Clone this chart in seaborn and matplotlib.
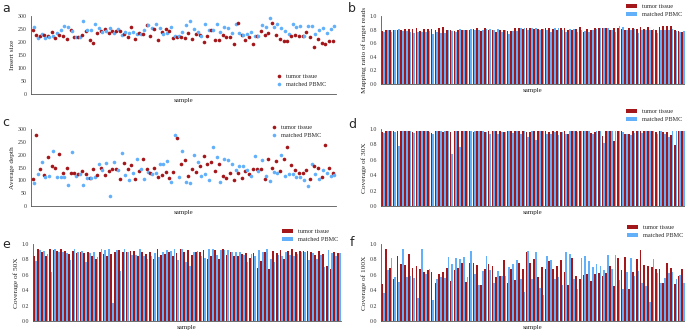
import pandas as pd
import matplotlib.pyplot as plt
import seaborn as sns

# Insert size (panel a)
insert_tumor = [245, 227, 223, 227, 222, 240, 217, 228, 224, 213, 246, 218, 218, 226, 242, 208,
                196, 236, 242, 250, 236, 242, 242, 241, 229, 218, 256, 213, 235, 232, 265, 224,
                250, 209, 238, 250, 244, 215, 220, 220, 215, 236, 213, 232, 228, 200, 222, 247,
                209, 209, 227, 219, 219, 192, 272, 228, 208, 219, 194, 222, 244, 227, 236, 272,
                226, 213, 203, 205, 224, 228, 224, 223, 237, 219, 181, 211, 197, 194, 203, 205]
insert_pbmc = [258, 217, 231, 215, 220, 225, 233, 246, 260, 257, 243, 221, 220, 280, 248, 248,
               268, 255, 238, 244, 253, 235, 250, 228, 240, 235, 238, 230, 230, 248, 265, 254,
               268, 252, 232, 235, 258, 222, 225, 238, 265, 282, 250, 240, 225, 270, 246, 247,
               270, 237, 256, 253, 233, 270, 235, 228, 232, 237, 225, 223, 265, 258, 293, 258,
               268, 252, 243, 232, 270, 258, 262, 222, 260, 263, 232, 245, 255, 236, 250, 262]

# Mapping ratio of target reads (panel b)
mapping_tumor = [0.78, 0.80, 0.80, 0.79, 0.80, 0.79, 0.81, 0.81, 0.81, 0.82, 0.78, 0.81, 0.81, 0.81,
                 0.79, 0.83, 0.84, 0.80, 0.80, 0.78, 0.79, 0.80, 0.79, 0.80, 0.81, 0.82, 0.78, 0.82,
                 0.80, 0.80, 0.77, 0.79, 0.79, 0.78, 0.78, 0.82, 0.82, 0.81, 0.82, 0.83, 0.81, 0.81,
                 0.81, 0.82, 0.82, 0.81, 0.80, 0.83, 0.82, 0.79, 0.80, 0.81, 0.84, 0.77, 0.81, 0.80,
                 0.82, 0.83, 0.82, 0.82, 0.80, 0.83, 0.82, 0.81, 0.80, 0.82, 0.82, 0.81, 0.84, 0.81,
                 0.84, 0.80, 0.80, 0.84, 0.86, 0.85, 0.86, 0.80, 0.78, 0.77]
mapping_pbmc = [0.76, 0.79, 0.77, 0.80, 0.81, 0.78, 0.78, 0.77, 0.75, 0.76, 0.77, 0.77, 0.78, 0.74,
                0.76, 0.75, 0.75, 0.80, 0.78, 0.76, 0.81, 0.79, 0.80, 0.81, 0.80, 0.80, 0.80, 0.81,
                0.81, 0.79, 0.81, 0.76, 0.80, 0.73, 0.78, 0.78, 0.82, 0.82, 0.80, 0.83, 0.83, 0.80,
                0.81, 0.80, 0.76, 0.82, 0.82, 0.80, 0.77, 0.81, 0.81, 0.76, 0.79, 0.78, 0.76, 0.80,
                0.81, 0.82, 0.83, 0.82, 0.79, 0.77, 0.85, 0.84, 0.80, 0.80, 0.81, 0.75, 0.80, 0.80,
                0.80, 0.81, 0.75, 0.79, 0.79, 0.79, 0.81, 0.78, 0.76, 0.78]

# Average depth (panel c)
depth_tumor = [107, 275, 143, 120, 190, 155, 147, 202, 130, 150, 128, 127, 125, 138, 125, 108,
               145, 122, 150, 120, 135, 143, 143, 107, 168, 143, 160, 107, 136, 183, 143, 127,
               150, 112, 120, 133, 110, 133, 263, 165, 178, 115, 145, 133, 157, 195, 162, 172,
               135, 165, 115, 108, 127, 102, 127, 110, 135, 125, 145, 145, 145, 105, 182, 147,
               175, 138, 183, 228, 158, 142, 130, 127, 140, 107, 157, 150, 113, 238, 148, 130]
depth_pbmc = [90, 125, 170, 113, 115, 213, 113, 113, 112, 83, 212, 118, 125, 82, 110, 110,
              113, 163, 140, 167, 40, 173, 140, 205, 120, 100, 127, 182, 143, 107, 132, 123,
              127, 163, 165, 175, 92, 278, 113, 215, 95, 88, 200, 173, 115, 123, 102, 230,
              190, 95, 183, 180, 165, 140, 155, 155, 140, 117, 195, 135, 178, 118, 98, 133,
              130, 200, 118, 125, 123, 112, 112, 102, 78, 165, 125, 107, 140, 130, 115, 120]

# Coverage of 30X (panel d)
cov30_tumor = [0.96, 0.98, 0.97, 0.97, 0.98, 0.98, 0.98, 0.98, 0.96, 0.98, 0.97, 0.97, 0.97, 0.95,
               0.97, 0.98, 0.96, 0.97, 0.96, 0.97, 0.98, 0.98, 0.98, 0.98, 0.96, 0.98, 0.97, 0.96,
               0.97, 0.98, 0.97, 0.97, 0.96, 0.97, 0.98, 0.97, 0.98, 0.98, 0.96, 0.96, 0.98, 0.98,
               0.97, 0.98, 0.96, 0.98, 0.97, 0.96, 0.98, 0.94, 0.97, 0.98, 0.98, 0.98, 0.97, 0.95,
               0.96, 0.97, 0.91, 0.97, 0.98, 0.85, 0.98, 0.98, 0.94, 0.93, 0.97, 0.98, 0.97, 0.97,
               0.97, 0.97, 0.96, 0.98, 0.96, 0.96, 0.92, 0.79, 0.97, 0.97]
cov30_pbmc = [0.95, 0.97, 0.97, 0.96, 0.78, 0.98, 0.98, 0.98, 0.95, 0.97, 0.98, 0.97, 0.96, 0.94,
              0.97, 0.98, 0.98, 0.98, 0.68, 0.98, 0.77, 0.98, 0.98, 0.97, 0.97, 0.98, 0.97, 0.96,
              0.93, 0.97, 0.93, 0.96, 0.96, 0.97, 0.95, 0.97, 0.94, 0.97, 0.90, 0.97, 0.86, 0.97,
              0.97, 0.93, 0.94, 0.96, 0.92, 0.96, 0.94, 0.97, 0.97, 0.96, 0.97, 0.97, 0.97, 0.94,
              0.97, 0.97, 0.82, 0.97, 0.97, 0.97, 0.97, 0.96, 0.93, 0.92, 0.95, 0.97, 0.95, 0.97,
              0.97, 0.97, 0.94, 0.97, 0.93, 0.90, 0.97, 0.97, 0.97, 0.97]

# Coverage of 50X (panel e)
cov50_tumor = [0.85, 0.94, 0.89, 0.85, 0.93, 0.92, 0.91, 0.93, 0.91, 0.87, 0.91, 0.88, 0.89, 0.88,
               0.90, 0.85, 0.81, 0.90, 0.87, 0.84, 0.87, 0.90, 0.92, 0.89, 0.90, 0.91, 0.91, 0.84,
               0.89, 0.87, 0.90, 0.80, 0.93, 0.86, 0.87, 0.89, 0.85, 0.88, 0.93, 0.90, 0.92, 0.86,
               0.90, 0.90, 0.92, 0.81, 0.84, 0.92, 0.80, 0.93, 0.86, 0.90, 0.85, 0.84, 0.87, 0.88,
               0.82, 0.88, 0.69, 0.78, 0.89, 0.68, 0.91, 0.88, 0.92, 0.81, 0.91, 0.93, 0.89, 0.91,
               0.91, 0.91, 0.90, 0.86, 0.91, 0.87, 0.72, 0.67, 0.89, 0.88]
cov50_pbmc = [0.78, 0.92, 0.91, 0.87, 0.64, 0.94, 0.89, 0.90, 0.88, 0.79, 0.93, 0.90, 0.91, 0.77,
              0.88, 0.89, 0.83, 0.93, 0.92, 0.93, 0.23, 0.92, 0.65, 0.94, 0.89, 0.86, 0.86, 0.94,
              0.84, 0.80, 0.84, 0.88, 0.83, 0.90, 0.92, 0.91, 0.93, 0.79, 0.94, 0.77, 0.71, 0.90,
              0.91, 0.84, 0.82, 0.93, 0.93, 0.86, 0.92, 0.92, 0.92, 0.89, 0.90, 0.90, 0.86, 0.77,
              0.87, 0.84, 0.92, 0.89, 0.93, 0.80, 0.77, 0.86, 0.85, 0.90, 0.86, 0.85, 0.87, 0.89,
              0.90, 0.79, 0.88, 0.80, 0.86, 0.70, 0.92, 0.88, 0.84, 0.88]

# Coverage of 100X (panel f)
cov100_tumor = [0.48, 0.94, 0.69, 0.55, 0.85, 0.74, 0.73, 0.87, 0.69, 0.71, 0.67, 0.64, 0.66, 0.64,
                0.50, 0.61, 0.63, 0.69, 0.52, 0.66, 0.69, 0.75, 0.51, 0.75, 0.75, 0.73, 0.47, 0.67,
                0.74, 0.71, 0.57, 0.58, 0.79, 0.50, 0.67, 0.53, 0.75, 0.68, 0.90, 0.75, 0.80, 0.57,
                0.70, 0.67, 0.78, 0.67, 0.72, 0.79, 0.64, 0.47, 0.82, 0.58, 0.54, 0.60, 0.61, 0.52,
                0.61, 0.62, 0.58, 0.62, 0.71, 0.46, 0.82, 0.66, 0.83, 0.42, 0.64, 0.81, 0.92, 0.73,
                0.71, 0.70, 0.67, 0.68, 0.49, 0.75, 0.69, 0.48, 0.59, 0.67]
cov100_pbmc = [0.36, 0.66, 0.82, 0.57, 0.51, 0.93, 0.57, 0.58, 0.56, 0.30, 0.93, 0.61, 0.68, 0.27,
               0.54, 0.57, 0.56, 0.83, 0.74, 0.82, 0.81, 0.83, 0.57, 0.91, 0.61, 0.47, 0.65, 0.85,
               0.66, 0.50, 0.65, 0.58, 0.59, 0.70, 0.74, 0.79, 0.54, 0.38, 0.91, 0.54, 0.90, 0.43,
               0.34, 0.85, 0.79, 0.55, 0.57, 0.47, 0.90, 0.87, 0.55, 0.42, 0.82, 0.85, 0.78, 0.70,
               0.74, 0.72, 0.66, 0.86, 0.68, 0.86, 0.53, 0.42, 0.63, 0.82, 0.58, 0.65, 0.49, 0.46,
               0.25, 0.81, 0.62, 0.50, 0.56, 0.62, 0.64, 0.55, 0.60, 0.50]

groups = ['tumor tissue', 'matched PBMC']
cores = {'tumor tissue': '#a3161a', 'matched PBMC': '#62b0fa'}

W, H = 685, 332


def montar(tumor, pbmc):
    n = len(tumor)
    return pd.DataFrame({
        'sample': list(range(n)) + list(range(len(pbmc))),
        'value': tumor + pbmc,
        'group': [groups[0]] * n + [groups[1]] * len(pbmc),
    })


def eixo(fig, x0, x1, top, bottom):
    return fig.add_axes([x0 / W, 1 - bottom / H, (x1 - x0) / W, (bottom - top) / H])


def estilo(ax, ylabel, ymax, passo, fmt):
    ax.set_xticks([])
    ax.set_ylim(0, ymax)
    ticks = [i * passo for i in range(int(round(ymax / passo)) + 1)]
    ax.set_yticks(ticks)
    ax.set_yticklabels([fmt.format(t) for t in ticks])
    ax.set_ylabel(ylabel, fontsize=5.3, labelpad=2)
    ax.set_xlabel('sample', fontsize=5, labelpad=3)
    ax.tick_params(axis='y', labelsize=4.2, length=2, width=0.5, pad=1, colors='#333333')
    for s in ['top', 'right']:
        ax.spines[s].set_visible(False)
    for s in ['left', 'bottom']:
        ax.spines[s].set_linewidth(0.6)
        ax.spines[s].set_color('#555555')
    ax.set_facecolor('white')


def legenda(ax, fig, x, y, barra):
    h, l = ax.get_legend_handles_labels()
    leg = fig.legend(h, l, loc='upper left', bbox_to_anchor=(x / W, 1 - y / H), frameon=False,
                     fontsize=4.5, borderpad=0, borderaxespad=0, labelspacing=0.35,
                     handlelength=1.8 if barra else 0.8, handleheight=0.7, handletextpad=0.8,
                     markerscale=1.0)
    if ax.get_legend() is not None:
        ax.get_legend().remove()
    return leg


def pontos(ax, df):
    sns.stripplot(data=df, x='sample', y='value', hue='group', hue_order=groups, palette=cores,
                  dodge=True, jitter=False, size=2.6, linewidth=0, ax=ax)
    ax.set_xlim(-0.6, df['sample'].max() + 0.6)


def barras(ax, df):
    sns.barplot(data=df, x='sample', y='value', hue='group', hue_order=groups, palette=cores,
                width=0.9, saturation=1, errorbar=None, linewidth=0, ax=ax)
    ax.set_xlim(-0.55, df['sample'].max() + 0.5)


sns.set_style('white')
plt.rcParams['font.family'] = ['Liberation Serif', 'DejaVu Serif']

fig = plt.figure(figsize=(W / 100, H / 100), dpi=100)
fig.patch.set_facecolor('white')

# a
ax = eixo(fig, 31, 336, 16, 94)
pontos(ax, montar(insert_tumor, insert_pbmc))
estilo(ax, 'Insert size', 300, 50, '{:.0f}')
legenda(ax, fig, 276, 74, False)

# b
ax = eixo(fig, 381, 685, 16, 84)
barras(ax, montar(mapping_tumor, mapping_pbmc))
estilo(ax, 'Mapping ratio of target reads', 1.0, 0.2, '{:.1f}')
legenda(ax, fig, 626, 4, True)

# c
ax = eixo(fig, 31, 336, 129, 206)
pontos(ax, montar(depth_tumor, depth_pbmc))
estilo(ax, 'Average depth', 300, 50, '{:.0f}')
legenda(ax, fig, 271, 125, False)

# d
ax = eixo(fig, 381, 685, 129, 206)
barras(ax, montar(cov30_tumor, cov30_pbmc))
estilo(ax, 'Coverage of 30X', 1.0, 0.2, '{:.1f}')
legenda(ax, fig, 626, 109, True)

# e
ax = eixo(fig, 33, 341, 244, 321)
barras(ax, montar(cov50_tumor, cov50_pbmc))
estilo(ax, 'Coverage of 50X', 1.0, 0.2, '{:.1f}')
legenda(ax, fig, 282, 229, True)

# f
ax = eixo(fig, 381, 685, 244, 321)
barras(ax, montar(cov100_tumor, cov100_pbmc))
estilo(ax, 'Coverage of 100X', 1.0, 0.2, '{:.1f}')
legenda(ax, fig, 627, 225, True)

# letras dos painéis
for letra, x, y in [('a', 2, 9), ('b', 348, 9), ('c', 2, 122), ('d', 348, 124), ('e', 2, 244), ('f', 350, 242)]:
    fig.text(x / W, 1 - y / H, letra, fontsize=9, family='DejaVu Sans', va='center', ha='left')

fig.savefig('out.png', dpi=100, facecolor='white')
